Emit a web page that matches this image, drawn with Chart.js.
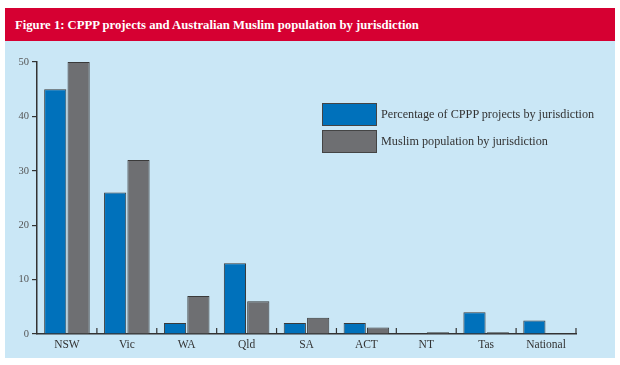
<!DOCTYPE html>
<html>
<head>
<meta charset="utf-8">
<script src="https://cdn.jsdelivr.net/npm/chart.js@4/dist/chart.umd.min.js"></script>
<style>
body{margin:0;width:620px;height:365px;background:#fff;position:relative;overflow:hidden}
#head{position:absolute;left:5px;top:8px;width:610px;height:33px;background:#d60032}
#head span{position:absolute;left:10px;top:10px;color:#fff;font:bold 12.7px "Liberation Serif",serif;white-space:nowrap}
#panel{position:absolute;left:5px;top:41px;width:610px;height:317px;background:#cae7f6}
#wrap{position:absolute;left:0;top:0;width:610px;height:317px}
#legend{position:absolute;left:317px;top:60px;font:12.2px "Liberation Serif",serif;color:#333}
#legend div{display:flex;align-items:center;height:27px}
#legend i{display:inline-block;width:53px;height:21px;border:1px solid #444;margin-right:4px}
</style>
</head>
<body>
<div id="head"><span>Figure 1: CPPP projects and Australian Muslim population by jurisdiction</span></div>
<div id="panel">
<div id="wrap"><canvas id="c"></canvas></div>
<div id="legend"></div>
</div>
<script>
const jurisdictions=["NSW","Vic","WA","Qld","SA","ACT","NT","Tas","National"]
const cpppProjects=[45,26,2,13,2,2,0,4,2.5]
const muslimPopulation=[50,32,7,6,3,1.2,0.3,0.3,0]
const yTicks=[0,10,20,30,40,50]
const seriesNames=["Percentage of CPPP projects by jurisdiction","Muslim population by jurisdiction"]
const colours=["#0071bb","#6e6f72"]

const upTicks={id:"upTicks",afterDraw(chart){
const x=chart.scales.x,ctx=chart.ctx,b=chart.chartArea.bottom
ctx.save();ctx.strokeStyle="#333";ctx.lineWidth=1.2
for(let i=1;i<=jurisdictions.length;i++){
const px=i<jurisdictions.length?(x.getPixelForTick(i-1)+x.getPixelForTick(i))/2:x.right
ctx.beginPath();ctx.moveTo(px,b);ctx.lineTo(px,b-6);ctx.stroke()
}
ctx.restore()
}}

new Chart(document.getElementById("c"),{
type:"bar",
data:{labels:jurisdictions,datasets:[
{label:seriesNames[0],data:cpppProjects,backgroundColor:colours[0]},
{label:seriesNames[1],data:muslimPopulation,backgroundColor:colours[1]}
]},
options:{
responsive:true,maintainAspectRatio:false,animation:false,
layout:{padding:{left:0,top:21,right:39,bottom:0}},
datasets:{bar:{categoryPercentage:0.78,barPercentage:0.95,borderWidth:1,borderColor:"#3a3a3a",borderSkipped:"bottom"}},
plugins:{legend:{display:false},tooltip:{enabled:false}},
scales:{
x:{grid:{display:false,drawTicks:false},border:{display:true,color:"#333",width:1.5},
ticks:{color:"#333",padding:4,font:{family:"Liberation Serif",size:11.5}},
afterFit(s){s.height=24}},
y:{min:0,max:50,afterBuildTicks(s){s.ticks=yTicks.map(v=>({value:v}))},
grid:{drawOnChartArea:false,tickLength:5,color:"#333",lineWidth:1.2},
border:{display:true,color:"#333",width:1.5},
ticks:{color:"#555",padding:3,font:{family:"Liberation Serif",size:10.5}},
afterFit(s){s.width=32}}
}
},
plugins:[upTicks]
})

document.getElementById("legend").innerHTML=seriesNames.map((n,i)=>`<div><i style="background:${colours[i]}"></i>${n}</div>`).join("")
</script>
</body>
</html>
